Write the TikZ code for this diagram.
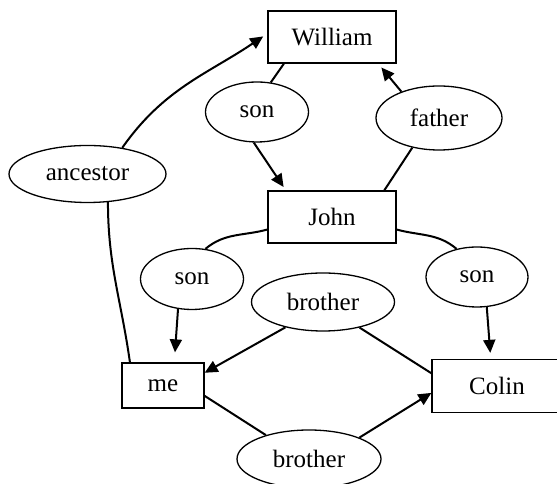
\documentclass[tikz,border=0pt]{standalone}
\usepackage{fontspec}
\setmainfont{Liberation Serif}
\usetikzlibrary{arrows.meta, shapes.geometric}

\begin{document}
\begin{tikzpicture}[x=1pt, y=1pt, font=\fontsize{25}{30}\selectfont,
		box/.style = {draw, rectangle, line width=1.3pt, minimum width=128pt, minimum height=52pt},
		rel/.style = {draw, ellipse, line width=1.3pt, inner sep=0pt},
		link/.style = {line width=2pt},
		arr/.style = {line width=2pt, -{Triangle[length=13pt, width=12pt]}}]
		\useasboundingbox (0,0) rectangle (557,484);
		\node[box] (william) at (332,447) {William};
		\node[box] (john) at (332,267) {John};
		\node[box, minimum width=82pt, minimum height=45pt] (me) at (163,98.5) {me};
		\node[box, minimum width=130pt, minimum height=53pt] (colin) at (497,98) {Colin};
		\node[rel, minimum width=103pt, minimum height=60pt] (son1) at (257,372) {son};
		\node[rel, minimum width=126pt, minimum height=64pt] (father) at (439,366) {father};
		\node[rel, minimum width=157pt, minimum height=57pt] (ancestor) at (87.5,310) {ancestor};
		\node[rel, minimum width=103pt, minimum height=61pt] (son2) at (192,205) {son};
		\node[rel, minimum width=102pt, minimum height=60pt] (son3) at (477,207) {son};
		\node[rel, minimum width=143pt, minimum height=58pt] (bro1) at (323,182) {brother};
		\node[rel, minimum width=144pt, minimum height=58pt] (bro2) at (309,25) {brother};
		\draw[arr, shorten >=5pt] (ancestor.37) to [out=55, in=214] (william.177);
		\draw[link] (ancestor.-54) to [out=-90, in=98] (me.145);
		\draw[link] (william.209) -- (son1.65);
		\draw[arr, shorten >=4pt] (son1.264) -- (john.150);
		\draw[link] (john.27) -- (father.228);
		\draw[arr, shorten >=5pt] (father.145) -- (william.-30);
		\draw[link] (john.191) to [out=195, in=40] (son2.66);
		\draw[link] (john.-11) to [out=-15, in=140] (son3.126);
		\draw[arr, shorten >=10pt] (son2.245) -- (me.64);
		\draw[arr, shorten >=6pt] (son3.-72) -- (colin.103);
		\draw[arr] (bro1.214) -- (me.17);
		\draw[link] (bro1.-35) -- (colin.169);
		\draw[link] (me.-14) -- (bro2.151);
		\draw[arr] (bro2.23) -- (colin.186);
	\end{tikzpicture}
\end{document}
